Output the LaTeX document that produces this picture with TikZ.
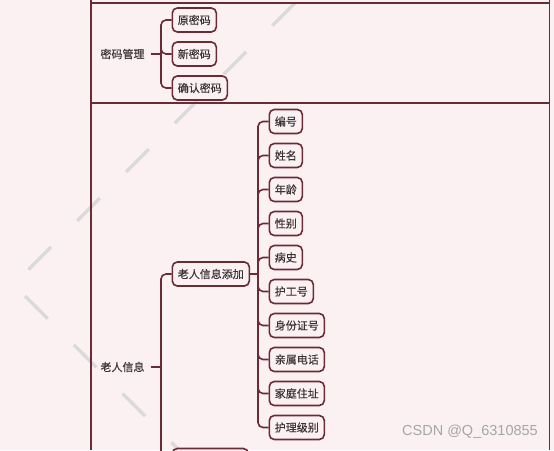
\documentclass[tikz,border=0pt]{standalone}
\usepackage{fontspec}
\newfontfamily\cjk[FakeBold=0.3]{Noto Sans CJK SC}
\newfontfamily\wmfont{Liberation Sans}
\usepackage{tikz}
\usetikzlibrary{positioning}
\usetikzlibrary{math}
\definecolor{bgpink}{HTML}{FBF1F3}
\definecolor{maroon}{HTML}{6B2B36}
\definecolor{inktxt}{HTML}{3A3234}
\definecolor{wmgray}{HTML}{DADADA}

\begin{document}
\begin{tikzpicture}[x=1pt,y=-1pt,
    leaf/.style={draw=maroon, line width=1.6pt, rounded corners=5pt, fill=bgpink,
      text=inktxt, font=\cjk\fontsize{11}{11}\selectfont, inner xsep=5.5pt,
      minimum height=24pt, anchor=west},
    topic/.style={text=inktxt, font=\cjk\fontsize{11}{11}\selectfont, inner sep=0pt},
    conn/.style={draw=maroon, line width=1.6pt, rounded corners=5pt},
    frame/.style={draw=maroon, line width=1.4pt}]
      \tikzmath{
        \lx = 268.5;
        \ly = 121.5;
        \dy = 34;
        \px = 171.5;
      }
      % background
      \useasboundingbox (0,0) rectangle (554,450);
      \fill[bgpink] (0,0) rectangle (554,450);

      % watermark strokes
      \draw[wmgray, line width=3.5pt, dash pattern=on 32pt off 37pt] (295,3) -- (13.5,284.5);
      \draw[wmgray, line width=3.5pt, dash pattern=on 32pt off 37pt] (25,296) -- (215,486);

      % table lines
      \draw[frame] (91,0) -- (91,450);
      \draw[frame] (549.5,0) -- (549.5,450);
      \draw[frame] (91,3) -- (549.5,3);
      \draw[frame] (91,103) -- (549.5,103);

      % password group
      \node[topic] (mmgl) at (122.5,54) {密码管理};
      \coordinate (mmj) at (161,54);
      \node[leaf] (ymm) at (\px,20) {原密码};
      \node[leaf] (xmm) at (\px,54) {新密码};
      \node[leaf] (qrmm) at (\px,88) {确认密码};
      \draw[conn] ([xshift=6pt]mmgl.east) -- (mmj);
      \draw[conn] (mmj) |- (ymm.west);
      \draw[conn] (mmj) |- (xmm.west);
      \draw[conn] (mmj) |- (qrmm.west);

      % elder info group
      \node[topic] (lrxx) at (122.5,367) {老人信息};
      \coordinate (lrj) at (161,367);
      \node[leaf] (lrtj) at (\px,274) {老人信息添加};
      \node[leaf, minimum width=76pt] (lrnext) at (\px,460.5) {};
      \draw[conn] ([xshift=6pt]lrxx.east) -- (lrj);
      \draw[conn] (lrj) |- (lrtj.west);
      \draw[conn] (lrj) |- (lrnext.west);

      % fields
      \coordinate (tjj) at (258,274);
      \node[leaf] (bh) at (\lx,\ly) {编号};
      \node[leaf] (xm) at (\lx,\ly+\dy) {姓名};
      \node[leaf] (nl) at (\lx,\ly+2*\dy) {年龄};
      \node[leaf] (xb) at (\lx,\ly+3*\dy) {性别};
      \node[leaf] (bs) at (\lx,\ly+4*\dy) {病史};
      \node[leaf] (hgh) at (\lx,\ly+5*\dy) {护工号};
      \node[leaf] (sfzh) at (\lx,\ly+6*\dy) {身份证号};
      \node[leaf] (qsdh) at (\lx,\ly+7*\dy) {亲属电话};
      \node[leaf] (jtzz) at (\lx,\ly+8*\dy) {家庭住址};
      \node[leaf] (hljb) at (\lx,\ly+9*\dy) {护理级别};
      \draw[conn] (lrtj.east) -- (tjj);
      \foreach \f in {bh,xm,nl,xb,bs,hgh,sfzh,qsdh,jtzz,hljb}
        \draw[conn] (tjj) |- (\f.west);

      % site mark
      \node[font=\wmfont\fontsize{14.5}{14.5}\selectfont, text=black!35, anchor=east, inner sep=0pt]
        (csdn) at (538,432) {CSDN @Q\_6310855};
\end{tikzpicture}
\end{document}
